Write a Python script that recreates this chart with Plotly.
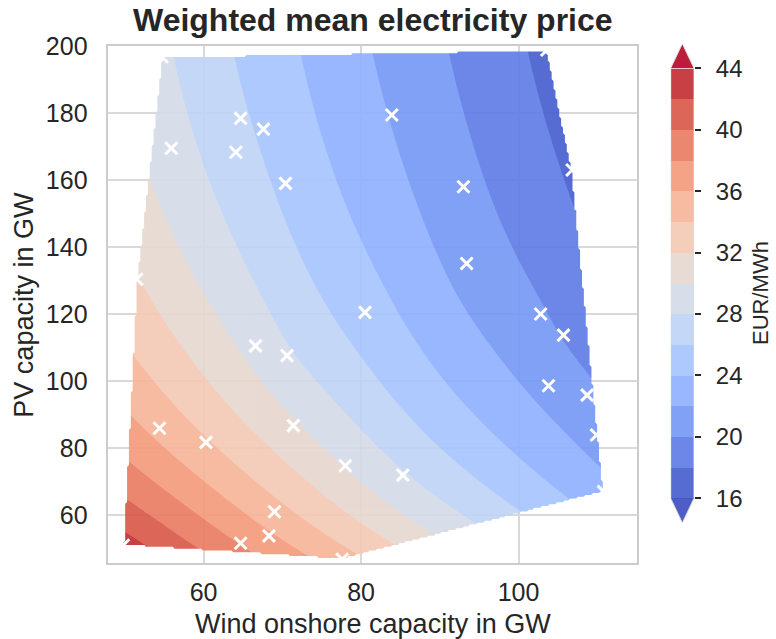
import numpy as np
import plotly.graph_objects as go

# ---------------- data ----------------
wind_gw = [54.7, 64.7, 67.6, 55.9, 64.1, 70.4, 51.5, 80.5, 66.6, 70.6,
           54.4, 60.3, 71.4, 78.0, 69.0, 68.3, 64.7, 77.6, 49.8, 103.6,
           83.9, 93.0, 93.4, 106.8, 102.8, 105.7, 103.8, 108.7, 109.9, 85.3, 110.8]
pv_gw = [196.8, 178.4, 175.2, 169.5, 168.3, 159.0, 130.4, 120.5, 110.5, 107.6,
         85.9, 81.7, 86.7, 74.7, 61.0, 53.8, 51.6, 46.8, 51.0, 198.8,
         179.4, 158.0, 135.1, 163.0, 120.0, 113.7, 98.6, 95.8, 83.9, 71.9, 67.0]
price_eur_mwh = [28.4, 26.3, 25.7, 28.9, 26.8, 25.55, 32.1, 25.0, 29.3, 28.3,
                 35.4, 34.2, 30.3, 29.9, 34.75, 36.3, 37.9, 34.9, 42.9, 17.5,
                 21.9, 20.6, 21.3, 17.7, 20.2, 19.9, 21.3, 20.5, 21.2, 28.2, 22.7]

levels = list(range(16, 46, 2))          # 16 .. 44
cbar_ticks = [16, 20, 24, 28, 32, 36, 40, 44]
x_ticks = [60, 80, 100]
y_ticks = [60, 80, 100, 120, 140, 160, 180, 200]

# coolwarm colours of each band (below 16, 16-18, ..., 42-44, above 44)
band_colors = ["rgb(59,76,192)",
               "rgb(69,92,206)", "rgb(92,123,229)", "rgb(116,151,245)", "rgb(141,176,254)",
               "rgb(166,196,254)", "rgb(190,211,246)", "rgb(212,219,231)", "rgb(230,215,207)",
               "rgb(243,201,179)", "rgb(247,180,151)", "rgb(244,154,123)", "rgb(234,123,96)",
               "rgb(217,87,71)", "rgb(194,43,48)",
               "rgb(180,4,38)"]

# ---------------- interpolate scattered points (thin-plate spline) ----------------
W = np.array(wind_gw, float)
P = np.array(pv_gw, float)
Z = np.array(price_eur_mwh, float)


def warp(w, p):
    # interpolation coordinates: PV expressed on a saturating scale
    return (w - 80.0) / 30.0, 98.7 * np.exp(-p / 72.0) / 30.0


def phi(r):
    with np.errstate(divide="ignore", invalid="ignore"):
        out = r ** 2 * np.log(r)
    return np.nan_to_num(out)


xn, yn = warp(W, P)
n = len(W)
K = phi(np.hypot(xn[:, None] - xn[None, :], yn[:, None] - yn[None, :]))
Pm = np.column_stack([np.ones(n), xn, yn])
A = np.zeros((n + 3, n + 3))
A[:n, :n] = K
A[:n, n:] = Pm
A[n:, :n] = Pm.T
coef = np.linalg.solve(A, np.concatenate([Z, np.zeros(3)]))
w_, a_ = coef[:n], coef[n:]

x_range = [47.9, 115.0]
y_range = [45.6, 200.0]
gx = np.linspace(x_range[0], x_range[1], 280)
gy = np.linspace(y_range[0], y_range[1], 280)
GX, GY = np.meshgrid(gx, gy)
gxn, gyn = warp(GX, GY)
R = np.hypot(gxn[..., None] - xn, gyn[..., None] - yn)
GZ = phi(R) @ w_ + a_[0] + a_[1] * gxn + a_[2] * gyn

# convex hull mask (monotone chain)
pts = sorted(set(zip(W.tolist(), P.tolist())))


def cross(o, a, b):
    return (a[0] - o[0]) * (b[1] - o[1]) - (a[1] - o[1]) * (b[0] - o[0])


lower, upper = [], []
for p in pts:
    while len(lower) >= 2 and cross(lower[-2], lower[-1], p) <= 0:
        lower.pop()
    lower.append(p)
for p in reversed(pts):
    while len(upper) >= 2 and cross(upper[-2], upper[-1], p) <= 0:
        upper.pop()
    upper.append(p)
hull = lower[:-1] + upper[:-1]
inside = np.ones_like(GX, bool)
for i in range(len(hull)):
    (x0, y0), (x1, y1) = hull[i], hull[(i + 1) % len(hull)]
    inside &= ((x1 - x0) * (GY - y0) - (y1 - y0) * (GX - x0)) >= -1e-9
GZ = np.where(inside, GZ, np.nan)

# colorscale: band k colour at position k/15
cs = [[k / 15, c] for k, c in enumerate(band_colors)]

FONT = "Liberation Sans, Arial, sans-serif"
TXT = "#262626"
Wf, Hf = 776, 639
pl, pr, pt, pb = 108.3, 636.7, 46.0, 563.3

fig = go.Figure()
fig.add_trace(go.Contour(
    x=gx, y=gy, z=GZ, autocontour=False,
    contours=dict(start=levels[0], end=levels[-1], size=2, coloring="fill", showlines=False),
    colorscale=cs, showscale=False, opacity=0.9, line=dict(width=0),
    connectgaps=False, hoverinfo="skip", xaxis="x", yaxis="y"))
fig.add_trace(go.Scatter(
    x=wind_gw, y=pv_gw, mode="markers",
    marker=dict(symbol="x-thin", size=12, color="white", line=dict(color="white", width=3)),
    xaxis="x", yaxis="y", hoverinfo="skip"))

# ---------------- colorbar drawn on its own axis ----------------
ext = 1.6
fig.add_trace(go.Bar(
    x=[0.5] * (len(levels) - 1), y=[levels[i + 1] - levels[i] for i in range(len(levels) - 1)],
    base=levels[:-1], width=1.0, marker=dict(color=band_colors[1:-1], line=dict(width=0)),
    opacity=0.9, xaxis="x2", yaxis="y2", hoverinfo="skip"))
fig.add_trace(go.Scatter(
    x=[0, 1, 0.5, 0], y=[levels[-1], levels[-1], levels[-1] + ext, levels[-1]],
    fill="toself", fillcolor=band_colors[-1], mode="none", opacity=0.9,
    xaxis="x2", yaxis="y2", hoverinfo="skip"))
fig.add_trace(go.Scatter(
    x=[0, 1, 0.5, 0], y=[levels[0], levels[0], levels[0] - ext, levels[0]],
    fill="toself", fillcolor=band_colors[0], mode="none", opacity=0.9,
    xaxis="x2", yaxis="y2", hoverinfo="skip"))
fig.add_trace(go.Scatter(
    x=[0, 0, 0.5, 1, 1, 0.5, 0],
    y=[levels[0], levels[-1], levels[-1] + ext, levels[-1], levels[0], levels[0] - ext, levels[0]],
    mode="lines", line=dict(color="#d9d9d9", width=1),
    xaxis="x2", yaxis="y2", hoverinfo="skip"))

px_per = (498.3 - 68.3) / (levels[-1] - levels[0])
cb_top = 68.3 - ext * px_per
cb_bot = 498.3 + ext * px_per

fig.update_layout(
    width=Wf, height=Hf, margin=dict(l=0, r=0, t=0, b=0, autoexpand=False),
    paper_bgcolor="white", plot_bgcolor="white", showlegend=False,
    bargap=0, barmode="overlay",
    font=dict(family=FONT, color=TXT, size=24),
    xaxis=dict(domain=[pl / Wf, pr / Wf], range=x_range, tickvals=x_ticks,
               showgrid=True, gridcolor="#d9d9d9", gridwidth=1.5, zeroline=False,
               showline=True, mirror=True, linecolor="#cccccc", linewidth=1.5,
               ticks="", ticklabelstandoff=6, tickfont=dict(size=25, color=TXT),
               anchor="y"),
    yaxis=dict(domain=[1 - pb / Hf, 1 - pt / Hf], range=y_range, tickvals=y_ticks,
               showgrid=True, gridcolor="#d9d9d9", gridwidth=1.5, zeroline=False,
               showline=True, mirror=True, linecolor="#cccccc", linewidth=1.5,
               ticks="", ticklabelstandoff=14, tickfont=dict(size=25, color=TXT),
               anchor="x"),
    xaxis2=dict(domain=[670.7 / Wf, 694.0 / Wf], range=[0, 1], visible=False, anchor="y2"),
    yaxis2=dict(domain=[1 - cb_bot / Hf, 1 - cb_top / Hf],
                range=[levels[0] - ext, levels[-1] + ext], tickvals=cbar_ticks,
                side="right", anchor="x2", showgrid=False, zeroline=False, showline=False,
                ticks="outside", ticklen=6, tickwidth=1.5, tickcolor=TXT,
                ticklabelstandoff=10, tickfont=dict(size=24, color=TXT)),
    annotations=[
        dict(text="<b>Weighted mean electricity price</b>", x=(pl + pr) / 2 / Wf, y=1 - 20 / Hf,
             xref="paper", yref="paper", xanchor="center", yanchor="middle",
             showarrow=False, font=dict(size=32, color=TXT, family=FONT)),
        dict(text="Wind onshore capacity in GW", x=(pl + pr) / 2 / Wf, y=1 - 624 / Hf,
             xref="paper", yref="paper", xanchor="center", yanchor="middle",
             showarrow=False, font=dict(size=27, color=TXT, family=FONT)),
        dict(text="PV capacity in GW", x=24 / Wf, y=1 - (pt + pb) / 2 / Hf, textangle=-90,
             xref="paper", yref="paper", xanchor="center", yanchor="middle",
             showarrow=False, font=dict(size=27, color=TXT, family=FONT)),
        dict(text="EUR/MWh", x=760 / Wf, y=1 - 293 / Hf, textangle=-90,
             xref="paper", yref="paper", xanchor="center", yanchor="middle",
             showarrow=False, font=dict(size=22, color=TXT, family=FONT)),
    ],
)

fig.write_html("out.html")
